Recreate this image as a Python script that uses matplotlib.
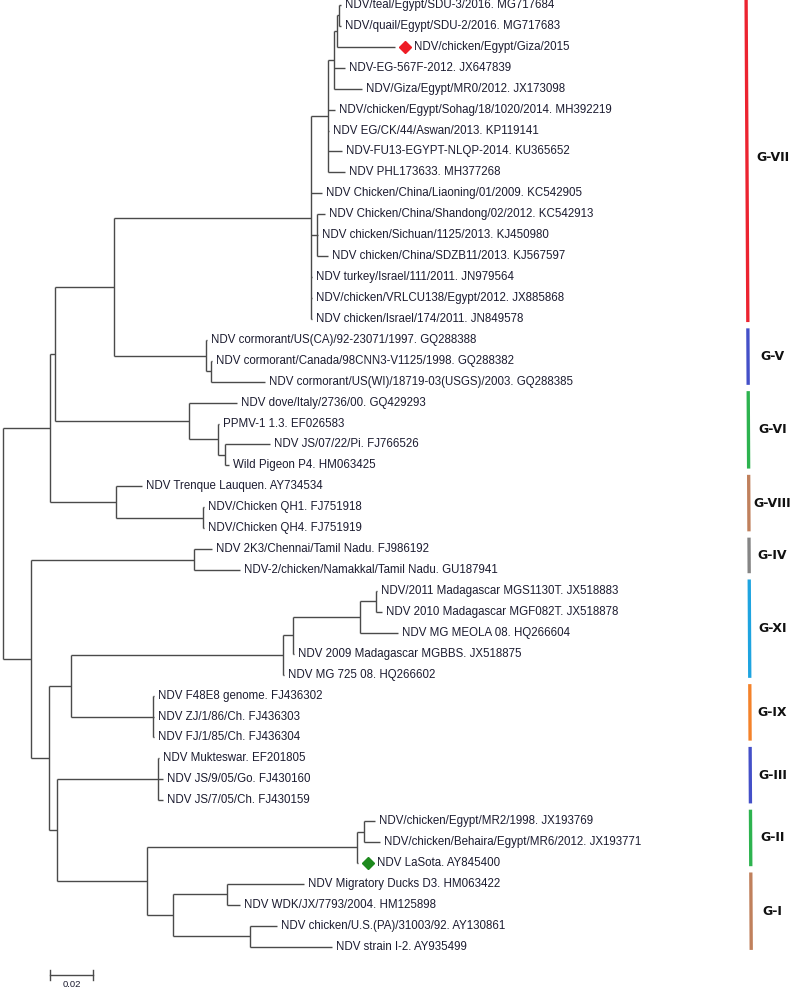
import matplotlib
matplotlib.use("Agg")
import matplotlib.pyplot as plt

# internal nodes: name, parent, branch length (subst./site)
node_names = ["A", "B", "A1", "G8", "C", "G6", "G7", "G5", "P", "R", "W", "V", "Q",
              "G5b", "D", "E", "G8b", "G4", "F", "H", "G", "G11", "J", "K", "L",
              "G9", "G3", "G12", "G2", "M", "G1", "N", "O"]
node_parents = ["root", "root", "A", "A", "A1", "A1", "C", "C", "G7", "P", "R", "W", "G7",
                "G5", "G6", "D", "G8", "B", "B", "F", "F", "H", "G11", "J", "K",
                "H", "G", "G", "G12", "G2", "G12", "G1", "G1"]
node_lengths = [0.0219, 0.0130, 0.0023, 0.0307, 0.0274, 0.0623, 0.0916, 0.0428, 0.0079,
                0.0028, 0.0014, 0.0009, 0.0028, 0.0023, 0.0135, 0.0033, 0.0405, 0.0758,
                0.0084, 0.0102, 0.0037, 0.0986, 0.0047, 0.0312, 0.0074, 0.0381, 0.0470,
                0.0419, 0.0977, 0.0033, 0.0121, 0.0251, 0.0358]

# leaves, top to bottom
leaf_labels = [
    "NDV/teal/Egypt/SDU-3/2016. MG717684",
    "NDV/quail/Egypt/SDU-2/2016. MG717683",
    "NDV/chicken/Egypt/Giza/2015",
    "NDV-EG-567F-2012. JX647839",
    "NDV/Giza/Egypt/MR0/2012. JX173098",
    "NDV/chicken/Egypt/Sohag/18/1020/2014. MH392219",
    "NDV EG/CK/44/Aswan/2013. KP119141",
    "NDV-FU13-EGYPT-NLQP-2014. KU365652",
    "NDV PHL173633. MH377268",
    "NDV Chicken/China/Liaoning/01/2009. KC542905",
    "NDV Chicken/China/Shandong/02/2012. KC542913",
    "NDV chicken/Sichuan/1125/2013. KJ450980",
    "NDV chicken/China/SDZB11/2013. KJ567597",
    "NDV turkey/Israel/111/2011. JN979564",
    "NDV/chicken/VRLCU138/Egypt/2012. JX885868",
    "NDV chicken/Israel/174/2011. JN849578",
    "NDV cormorant/US(CA)/92-23071/1997. GQ288388",
    "NDV cormorant/Canada/98CNN3-V1125/1998. GQ288382",
    "NDV cormorant/US(WI)/18719-03(USGS)/2003. GQ288385",
    "NDV dove/Italy/2736/00. GQ429293",
    "PPMV-1 1.3. EF026583",
    "NDV JS/07/22/Pi. FJ766526",
    "Wild Pigeon P4. HM063425",
    "NDV Trenque Lauquen. AY734534",
    "NDV/Chicken QH1. FJ751918",
    "NDV/Chicken QH4. FJ751919",
    "NDV 2K3/Chennai/Tamil Nadu. FJ986192",
    "NDV-2/chicken/Namakkal/Tamil Nadu. GU187941",
    "NDV/2011 Madagascar MGS1130T. JX518883",
    "NDV 2010 Madagascar MGF082T. JX518878",
    "NDV MG MEOLA 08. HQ266604",
    "NDV 2009 Madagascar MGBBS. JX518875",
    "NDV MG 725 08. HQ266602",
    "NDV F48E8 genome. FJ436302",
    "NDV ZJ/1/86/Ch. FJ436303",
    "NDV FJ/1/85/Ch. FJ436304",
    "NDV Mukteswar. EF201805",
    "NDV JS/9/05/Go. FJ430160",
    "NDV JS/7/05/Ch. FJ430159",
    "NDV/chicken/Egypt/MR2/1998. JX193769",
    "NDV/chicken/Behaira/Egypt/MR6/2012. JX193771",
    "NDV LaSota. AY845400",
    "NDV Migratory Ducks D3. HM063422",
    "NDV WDK/JX/7793/2004. HM125898",
    "NDV chicken/U.S.(PA)/31003/92. AY130861",
    "NDV strain I-2. AY935499",
]
leaf_parents = ["V", "V", "W", "R", "R", "P", "P", "P", "P", "G7", "Q", "Q", "Q",
                "G7", "G7", "G7", "G5", "G5b", "G5b", "G6", "D", "E", "E", "G8",
                "G8b", "G8b", "G4", "G4", "L", "L", "K", "J", "G11", "G9", "G9", "G9",
                "G3", "G3", "G3", "M", "M", "G2", "N", "N", "O", "O"]
leaf_lengths = [0.0009, 0.0009, 0.0270, 0.0051, 0.0130, 0.0033, 0.0005, 0.0065, 0.0079,
                0.0051, 0.0037, 0.0005, 0.0051, 0.0005, 0.0005, 0.0005, 0.0005, 0.0005,
                0.0251, 0.0223, 0.0005, 0.0209, 0.0019, 0.0121, 0.0005, 0.0005, 0.0084,
                0.0214, 0.0005, 0.0028, 0.0177, 0.0005, 0.0005, 0.0005, 0.0005, 0.0005,
                0.0005, 0.0023, 0.0023, 0.0051, 0.0074, 0.0005, 0.0358, 0.0060, 0.0126,
                0.0381]

marked_leaves = {2: "#ee1c25", 41: "#1e8a1e"}

# genotype groups: first and last leaf index
clade_names = ["G-VII", "G-V", "G-VI", "G-VIII", "G-IV", "G-XI", "G-IX", "G-III", "G-II", "G-I"]
clade_first = [0, 16, 19, 23, 26, 28, 33, 36, 39, 42]
clade_last = [15, 18, 22, 25, 27, 32, 35, 38, 41, 45]
clade_colors = ["#ec2330", "#4450c8", "#2db34f", "#c0805c", "#858585",
                "#1ea4e0", "#f4822a", "#4450c8", "#2db34f", "#c0805c"]

# ---- layout ----
parent_of = dict(zip(node_names, node_parents))
length_of = dict(zip(node_names, node_lengths))
xpos = {"root": 0.0}


def node_x(n):
    if n not in xpos:
        xpos[n] = node_x(parent_of[n]) + length_of[n]
    return xpos[n]


for n in node_names:
    node_x(n)

leaf_x = [xpos[p] + l for p, l in zip(leaf_parents, leaf_lengths)]
leaf_y = list(range(len(leaf_labels)))

children = {}
for n, p in zip(node_names, node_parents):
    children.setdefault(p, []).append(("n", n))
for i, p in enumerate(leaf_parents):
    children.setdefault(p, []).append(("l", i))

ypos = {}


def node_y(n):
    if n in ypos:
        return ypos[n]
    ys = [leaf_y[c] if k == "l" else node_y(c) for k, c in children[n]]
    ypos[n] = (min(ys) + max(ys)) / 2.0
    return ypos[n]


node_y("root")

# ---- drawing ----
fig = plt.figure(figsize=(7.98, 9.88), dpi=100)
ax = fig.add_axes([0, 0, 1, 1])
px = 0.02 / 43.0
ax.set_xlim(-3 * px, 795 * px)
ax.set_ylim(46.97, -0.239)
ax.axis("off")

lc = "#4a4a4a"
lw = 1.0
for n in ["root"] + node_names:
    ys = [leaf_y[c] if k == "l" else ypos[c] for k, c in children[n]]
    ax.plot([xpos[n], xpos[n]], [min(ys), max(ys)], color=lc, lw=lw, solid_capstyle="butt")
    if n != "root":
        ax.plot([xpos[parent_of[n]], xpos[n]], [ypos[n], ypos[n]], color=lc, lw=lw,
                solid_capstyle="butt")

tc = "#1c1c30"
for i, lab in enumerate(leaf_labels):
    x0 = xpos[leaf_parents[i]]
    ax.plot([x0, leaf_x[i]], [leaf_y[i], leaf_y[i]], color=lc, lw=lw, solid_capstyle="butt")
    gap = 4 * px
    if i in marked_leaves:
        ax.plot(leaf_x[i] + 10 * px, leaf_y[i], marker="D", ms=6.5,
                color=marked_leaves[i], mec=marked_leaves[i])
        gap = 19 * px
    ax.text(leaf_x[i] + gap, leaf_y[i], lab, fontsize=8.3, family="Liberation Sans",
            color=tc, va="center", ha="left")

# genotype bars (slightly slanted, as drawn in the original)
trans = ax.get_yaxis_transform()
for name, a, b, col in zip(clade_names, clade_first, clade_last, clade_colors):
    y0, y1 = a - 0.55, b + 0.15
    xa0 = 0.935 + 0.0065 * y0 / 46.0
    xa1 = 0.935 + 0.0065 * y1 / 46.0
    ax.plot([xa0, xa1], [y0, y1], color=col, lw=2.4, transform=trans,
            solid_capstyle="butt")
    ax.text(0.968, (y0 + y1) / 2, name, transform=trans, fontsize=9, fontweight="bold",
            family="DejaVu Sans", ha="center", va="center", color="#111111")

# scale bar
sx = 47 * px
sy = 46.35
ax.plot([sx, sx + 0.02], [sy, sy], color=lc, lw=1.0)
ax.plot([sx, sx], [sy - 0.22, sy + 0.22], color=lc, lw=1.0)
ax.plot([sx + 0.02, sx + 0.02], [sy - 0.22, sy + 0.22], color=lc, lw=1.0)
ax.text(sx + 0.01, 46.9, "0.02", fontsize=6.8, family="Liberation Sans",
        ha="center", va="baseline", color=tc)

fig.savefig("out.png", dpi=100, facecolor="white")
